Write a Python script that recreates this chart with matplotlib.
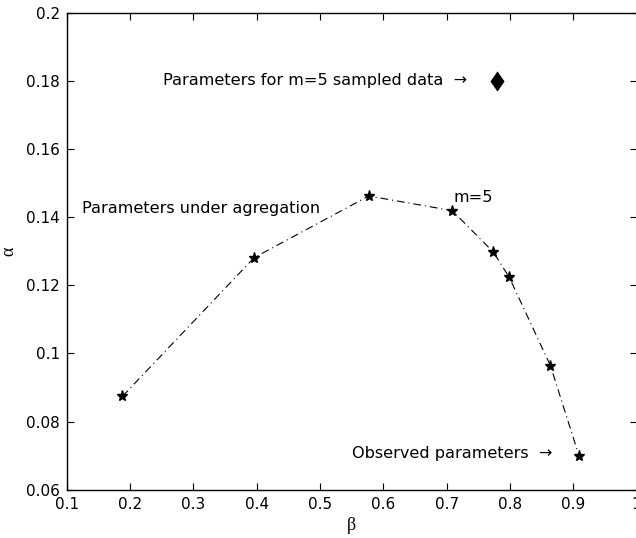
import matplotlib
matplotlib.use("Agg")
import matplotlib.pyplot as plt

# parameters under aggregation (beta, alpha), from m=5 down to observed
beta = [0.188, 0.396, 0.577, 0.709, 0.774, 0.799, 0.864, 0.909]
alpha = [0.0874, 0.1281, 0.1462, 0.1419, 0.1297, 0.1223, 0.0964, 0.0700]

# m=5 sampled data estimate
beta_m5 = [0.7795]
alpha_m5 = [0.180]

xticks = [0.1, 0.2, 0.3, 0.4, 0.5, 0.6, 0.7, 0.8, 0.9, 1]
yticks = [0.06, 0.08, 0.1, 0.12, 0.14, 0.16, 0.18, 0.2]

plt.rcParams['font.family'] = ['DejaVu Sans']

fig = plt.figure(figsize=(6.36, 5.38), dpi=100)
ax = fig.add_axes([0.1049, 0.0898, 0.896, 0.8866])

ax.plot(beta, alpha, color='black', linestyle='-.', linewidth=0.8,
        marker='*', markersize=8, dashes=(7, 3.5, 1, 3.5))
# tall diamond like matlab's
diamond = [(0, 1), (0.7, 0), (0, -1), (-0.7, 0), (0, 1)]
ax.plot(beta_m5, alpha_m5, linestyle='none', marker=diamond, color='black',
        markersize=14.5, markeredgewidth=0)

ax.set_xlim(0.1, 1)
ax.set_ylim(0.06, 0.2)
ax.set_xticks(xticks)
ax.set_xticklabels(['0.1', '0.2', '0.3', '0.4', '0.5', '0.6', '0.7', '0.8', '0.9', '1'])
ax.set_yticks(yticks)
ax.set_yticklabels(['0.06', '0.08', '0.1', '0.12', '0.14', '0.16', '0.18', '0.2'])
ax.tick_params(direction='in', top=True, right=True, length=5, width=0.8,
               labelsize=11, pad=5)
for s in ax.spines.values():
    s.set_linewidth(1.0)

ax.set_xlabel('β', family=['Liberation Serif', 'DejaVu Serif'], fontsize=13, labelpad=4)
ax.set_ylabel('α', family=['Liberation Serif', 'DejaVu Serif'], fontsize=13, labelpad=6)

ax.text(0.2516, 0.18, 'Parameters for m=5 sampled data  →', fontsize=11.6,
        ha='left', va='center')
ax.text(0.1237, 0.1425, 'Parameters under agregation', fontsize=11.6,
        ha='left', va='center')
ax.text(0.7105, 0.1457, 'm=5', fontsize=11.6, ha='left', va='center')
ax.text(0.5505, 0.0707, 'Observed parameters  →', fontsize=11.6,
        ha='left', va='center')

fig.savefig('out.png', dpi=100)
